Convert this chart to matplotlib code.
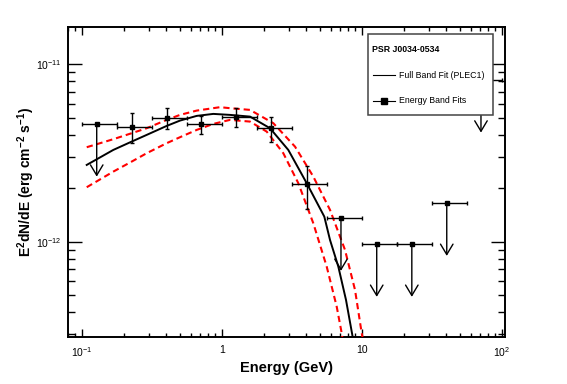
import matplotlib
matplotlib.use("Agg")
import matplotlib.pyplot as plt
from matplotlib.lines import Line2D
from matplotlib.patches import Rectangle
from matplotlib.ticker import FixedFormatter, FixedLocator, LogLocator, NullFormatter

plt.rcParams["font.family"] = ["Liberation Sans", "DejaVu Sans"]
plt.rcParams["mathtext.fontset"] = "custom"
plt.rcParams["mathtext.rm"] = "Liberation Sans"
plt.rcParams["mathtext.it"] = "Liberation Sans:italic"
plt.rcParams["mathtext.bf"] = "Liberation Sans:bold"

# energy band fits with errors (GeV, erg cm^-2 s^-1)
band_energy = [0.228, 0.405, 0.711, 1.265, 2.25, 4.05]
band_lo = [0.178, 0.316, 0.562, 1.0, 1.78, 3.16]
band_hi = [0.316, 0.562, 1.0, 1.78, 3.16, 5.62]
band_flux = [4.44e-12, 4.96e-12, 4.60e-12, 5.07e-12, 4.39e-12, 2.11e-12]
band_flux_hi = [5.29e-12, 5.65e-12, 5.12e-12, 5.69e-12, 5.07e-12, 2.68e-12]
band_flux_lo = [3.59e-12, 4.31e-12, 4.03e-12, 4.44e-12, 3.66e-12, 1.52e-12]

# upper limits
ul_energy = [0.128, 7.11, 12.8, 22.8, 40.5, 71.1]
ul_lo = [0.1, 5.62, 10.0, 17.8, 31.6, 56.2]
ul_hi = [0.178, 10.0, 17.8, 31.6, 56.2, 100.0]
ul_flux = [4.6e-12, 1.355e-12, 9.67e-13, 9.67e-13, 1.645e-12, 8.15e-12]

# full band fit (PLEC1)
fit_energy = [0.1086, 0.1681, 0.2276, 0.2912, 0.4046, 0.5037, 0.6629, 0.871, 1.146,
              1.593, 2.213, 2.99, 4.047, 5.406, 5.937, 6.806, 7.724, 8.524, 8.958]
fit_flux = [2.705e-12, 3.286e-12, 3.662e-12, 3.994e-12, 4.488e-12, 4.809e-12, 5.111e-12,
            5.245e-12, 5.178e-12, 5.064e-12, 4.356e-12, 3.286e-12, 2.134e-12, 1.383e-12,
            1.022e-12, 7.23e-13, 4.69e-13, 3.046e-13, 2.45e-13]

# 1 sigma band edges
up_energy = [0.1086, 0.1681, 0.2276, 0.2912, 0.4046, 0.5037, 0.6629, 0.9724, 1.146,
             1.593, 2.337, 3.339, 4.511, 5.937, 7.597, 8.958, 10.0, 10.38]
up_flux = [3.404e-12, 3.777e-12, 4.083e-12, 4.356e-12, 4.853e-12, 5.178e-12, 5.475e-12,
           5.723e-12, 5.649e-12, 5.525e-12, 4.649e-12, 3.43e-12, 2.325e-12, 1.509e-12,
           8.978e-13, 5.341e-13, 3.046e-13, 2.62e-13]
low_energy = [0.1086, 0.1681, 0.2276, 0.2912, 0.4046, 0.5037, 0.6629, 0.871, 1.146,
              1.593, 2.096, 2.754, 3.525, 4.511, 5.623, 6.628, 7.197, 7.41]
low_flux = [2.025e-12, 2.48e-12, 2.825e-12, 3.149e-12, 3.587e-12, 3.876e-12, 4.261e-12,
            4.607e-12, 4.853e-12, 4.747e-12, 4.169e-12, 3.149e-12, 2.134e-12, 1.269e-12,
            7.228e-13, 4.301e-13, 3.046e-13, 2.62e-13]

x_ticks = [0.1, 1, 10, 100]
x_tick_labels = [r"$10^{-1}$", "1", "10", r"$10^{2}$"]
y_ticks = [1e-12, 1e-11]
y_tick_labels = [r"$10^{-12}$", r"$10^{-11}$"]

fig = plt.figure(figsize=(5.67, 3.84), dpi=100)
ax = fig.add_axes([0.1199, 0.1224, 0.7708, 0.8073])
ax.set_xscale("log")
ax.set_yscale("log")
ax.set_xlim(0.0798, 105.6)
ax.set_ylim(2.9e-13, 1.62e-11)

ax.plot(fit_energy, fit_flux, color="black", lw=1.4, zorder=3)
ax.plot(up_energy, up_flux, color="#ff0000", lw=1.5, dashes=(3.0, 1.9), zorder=3)
ax.plot(low_energy, low_flux, color="#ff0000", lw=1.5, dashes=(3.0, 1.9), zorder=3)

xerr = [[e - lo for e, lo in zip(band_energy, band_lo)],
        [hi - e for e, hi in zip(band_energy, band_hi)]]
yerr = [[f - lo for f, lo in zip(band_flux, band_flux_lo)],
        [hi - f for f, hi in zip(band_flux, band_flux_hi)]]
ax.errorbar(band_energy, band_flux, xerr=xerr, yerr=yerr, fmt="s", color="black",
            ms=2.5, elinewidth=1.0, capsize=1.5, capthick=1.0, zorder=4)

ul_xerr = [[e - lo for e, lo in zip(ul_energy, ul_lo)],
           [hi - e for e, hi in zip(ul_energy, ul_hi)]]
ax.errorbar(ul_energy, ul_flux, xerr=ul_xerr, fmt="s", color="black",
            ms=2.5, elinewidth=1.0, capsize=1.5, capthick=1.0, zorder=4)
for e, f in zip(ul_energy, ul_flux):
    ax.annotate("", xy=(e, f * 0.505), xytext=(e, f),
                arrowprops=dict(arrowstyle="->,head_length=0.75,head_width=0.45",
                                color="black", lw=1.0, shrinkA=0, shrinkB=0,
                                mutation_scale=10),
                zorder=4)

ax.xaxis.set_major_locator(FixedLocator(x_ticks))
ax.xaxis.set_major_formatter(FixedFormatter(x_tick_labels))
ax.xaxis.set_minor_locator(LogLocator(base=10, subs=range(2, 10), numticks=20))
ax.xaxis.set_minor_formatter(NullFormatter())
ax.yaxis.set_major_locator(FixedLocator(y_ticks))
ax.yaxis.set_major_formatter(FixedFormatter(y_tick_labels))
ax.yaxis.set_minor_locator(LogLocator(base=10, subs=range(2, 10), numticks=20))
ax.yaxis.set_minor_formatter(NullFormatter())

ax.tick_params(axis="x", which="major", direction="in", length=5.8, width=1.0,
               top=True, pad=6, labelsize=7.5)
ax.tick_params(axis="x", which="minor", direction="in", length=2.9, width=1.0, top=True)
ax.tick_params(axis="y", which="major", direction="in", length=9.9, width=1.0,
               right=True, pad=4.5, labelsize=7.5)
ax.tick_params(axis="y", which="minor", direction="in", length=5.0, width=1.0, right=True)
for spine in ax.spines.values():
    spine.set_linewidth(1.4)

ax.set_xlabel("Energy (GeV)", fontsize=10.5, fontweight="bold")
ax.xaxis.set_label_coords(0.5, -0.077)
ax.set_ylabel(r"$\mathbf{E^{2}dN/dE\ (erg\ cm^{-2}\ s^{-1})}$", fontsize=10)
ax.yaxis.set_label_coords(-0.072, 0.5)

# legend box, drawn by hand to match the original layout
ax.add_patch(Rectangle((0.687, 0.716), 0.286, 0.261, transform=ax.transAxes,
                       facecolor="white", edgecolor="#444444", lw=1.1, zorder=10))
ax.text(0.696, 0.929, "PSR J0034-0534", transform=ax.transAxes, fontsize=6.3,
        fontweight="bold", va="center", ha="left", zorder=11)
ax.add_line(Line2D([0.697, 0.748], [0.845, 0.845], transform=ax.transAxes,
                   color="black", lw=0.8, zorder=11))
ax.text(0.757, 0.845, "Full Band Fit (PLEC1)", transform=ax.transAxes, fontsize=6.3,
        va="center", ha="left", zorder=11)
ax.add_line(Line2D([0.697, 0.748], [0.762, 0.762], transform=ax.transAxes,
                   color="black", lw=0.8, zorder=11))
ax.add_line(Line2D([0.723], [0.762], transform=ax.transAxes, color="black",
                   marker="s", ms=4, zorder=11))
ax.text(0.757, 0.762, "Energy Band Fits", transform=ax.transAxes, fontsize=6.3,
        va="center", ha="left", zorder=11)

fig.savefig("out.png", dpi=100)
